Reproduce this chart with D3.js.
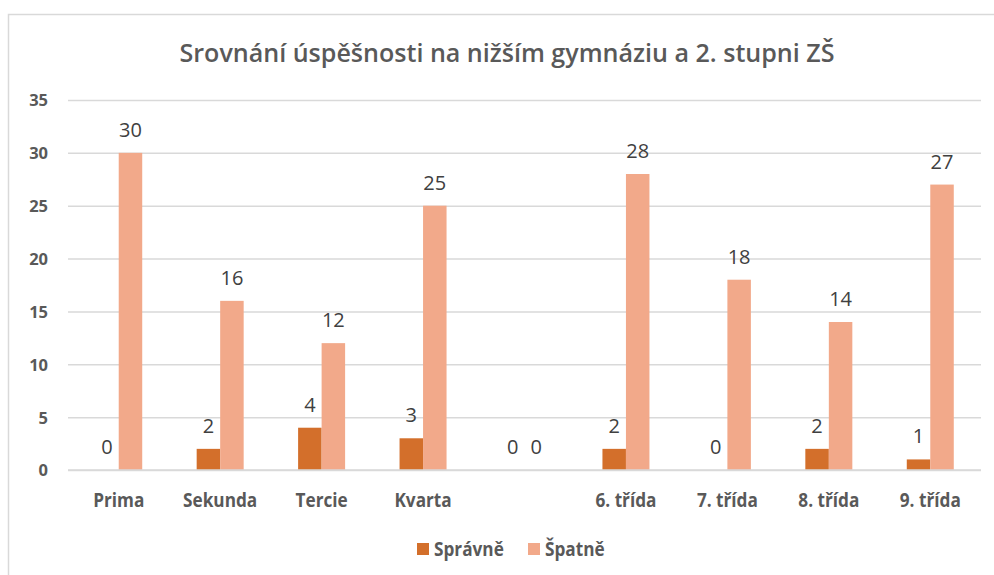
<!DOCTYPE html>
<html><head><meta charset="utf-8">
<script src="https://cdn.jsdelivr.net/npm/d3@7"></script>
<style>body{margin:0;background:#fff}svg{display:block}</style>
</head><body>
<svg id="c" width="994" height="575"></svg>
<script>
const categories = ["Prima","Sekunda","Tercie","Kvarta","","6. třída","7. třída","8. třída","9. třída"];
const spravne = [0,2,4,3,0,2,0,2,1];
const spatne = [30,16,12,25,0,28,18,14,27];
const seriesNames = ["Správně","Špatně"];
const yTicks = [0,5,10,15,20,25,30,35];
const colors = ["#D36F2B","#F2A98A"];
const title = "Srovnání úspěšnosti na nižším gymnáziu a 2. stupni ZŠ";

const font = "'Open Sans', 'Noto Sans', sans-serif";
const svg = d3.select("#c");
function condense(sel, f){
  sel.each(function(){
    const w = this.getComputedTextLength();
    if (w>0) d3.select(this).attr("textLength", w*f).attr("lengthAdjust","spacingAndGlyphs");
  });
}
// chart border
svg.append("path").attr("d","M8.5,575 V14.5 H994").attr("fill","none").attr("stroke","#d9d9d9").attr("stroke-width",1.5);

const m = {l:68, r:981, t:100, b:470};
const x0 = d3.scaleBand().domain(categories.map((c,i)=>i)).range([m.l,m.r]).paddingInner(0).paddingOuter(0);
const y = d3.scaleLinear().domain([0,35]).range([m.b,m.t]);
const barW = 23.5;
const x1 = d3.scaleBand().domain([0,1]).range([-barW, barW]);

// gridlines
const yAxis = d3.axisLeft(y).tickValues(yTicks).tickSize(-(m.r-m.l)).tickPadding(20);
const gy = svg.append("g").attr("transform",`translate(${m.l},0)`).call(yAxis);
gy.select(".domain").remove();
gy.selectAll(".tick line").attr("stroke","#d9d9d9").attr("stroke-width",1.5);
gy.selectAll(".tick text").attr("font-family",font).attr("font-size",16.5).attr("font-weight",700).attr("fill","#595959").attr("x",-20).attr("dy","0.36em");

// x axis labels
const xAxis = d3.axisBottom(x0).tickFormat(i=>categories[i]).tickSize(0);
const gx = svg.append("g").attr("transform",`translate(0,${m.b})`).call(xAxis);
gx.select(".domain").remove();
gx.selectAll(".tick text").attr("font-family",font).attr("font-size",20).attr("font-weight",700).attr("fill","#595959").attr("y",36.5).attr("dy",0);
condense(gx.selectAll(".tick text"), 0.86);

const data = [spravne, spatne];
const groups = svg.append("g");
categories.forEach((c,i)=>{
  const cx = x0(i) + x0.bandwidth()/2;
  data.forEach((arr,s)=>{
    const v = arr[i];
    const bx = cx + x1(s);
    if (v>0) groups.append("rect").attr("x",bx).attr("width",x1.bandwidth()).attr("y",y(v)).attr("height",y(0)-y(v)).attr("fill",colors[s]);
    groups.append("text").attr("x",bx + x1.bandwidth()/2).attr("y",y(v)-16).attr("text-anchor","middle")
      .attr("font-family",font).attr("font-size",20).attr("fill","#404040").text(v);
  });
});
svg.append("line").attr("x1",m.l).attr("x2",m.r).attr("y1",y(0)).attr("y2",y(0)).attr("stroke","#d9d9d9").attr("stroke-width",1.5);

// title
const t = svg.append("text").attr("x",507).attr("y",62).attr("text-anchor","middle")
  .attr("font-family",font).attr("font-size",24.5).attr("font-weight",600).attr("fill","#595959").text(title);
t.attr("textLength",655).attr("lengthAdjust","spacingAndGlyphs");

// legend
const leg = [{x:417,tx:434,s:0},{x:528,tx:545,s:1}];
leg.forEach(l=>{
  svg.append("rect").attr("x",l.x).attr("y",543).attr("width",12).attr("height",12).attr("fill",colors[l.s]);
  const lt = svg.append("text").attr("x",l.tx).attr("y",555.5).attr("font-family",font).attr("font-size",20).attr("font-weight",700).attr("fill","#595959").text(seriesNames[l.s]);
  condense(lt, 0.86);
});
</script>
</body></html>
